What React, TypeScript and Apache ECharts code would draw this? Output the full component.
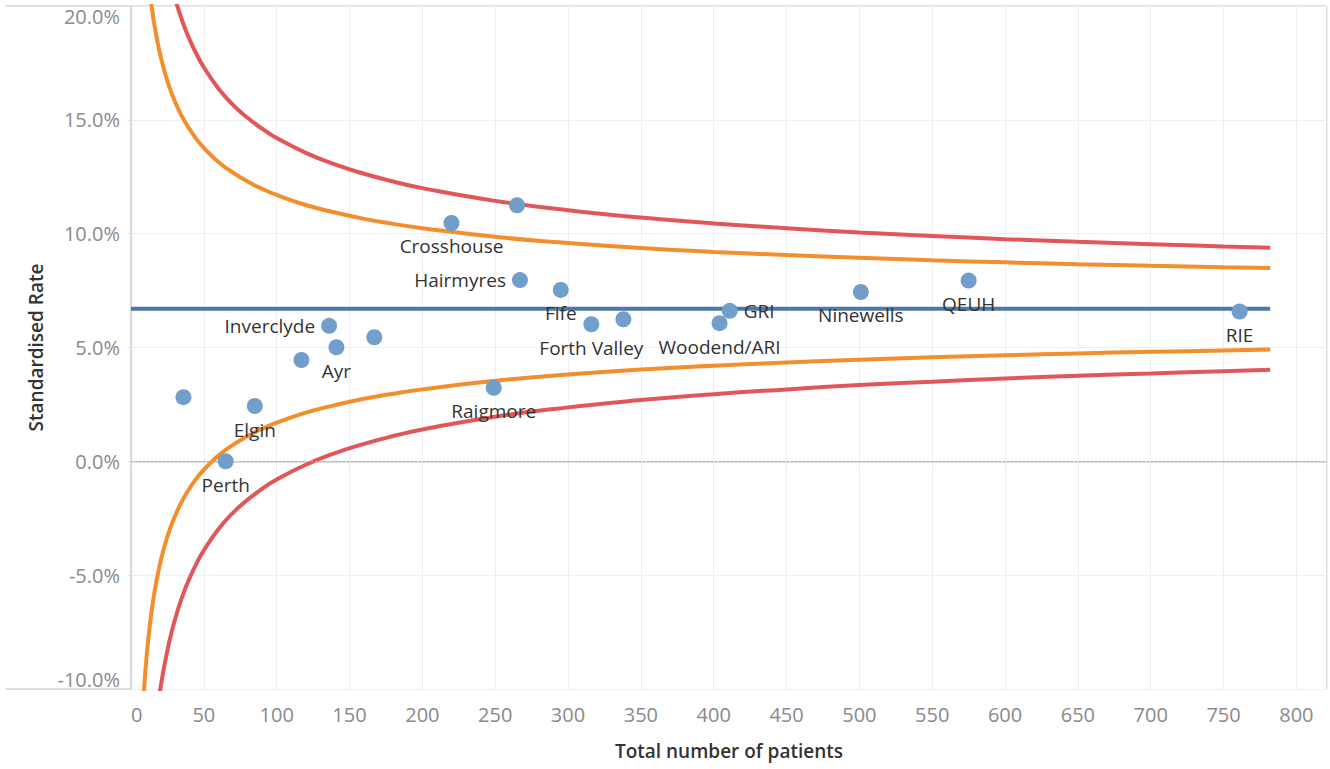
import React, { useEffect, useRef } from "react";
import * as echarts from "echarts";

// Hospitals: name, total number of patients, standardised rate (%)
const hospitals = ["", "Perth", "Elgin", "", "Inverclyde", "Ayr", "", "Crosshouse", "", "Hairmyres", "Fife", "Forth Valley", "", "Woodend/ARI", "GRI", "Raigmore", "Ninewells", "QEUH", "RIE"];
const patients = [36, 65, 85, 117, 136, 141, 167, 220, 265, 267, 295, 316, 338, 404, 411, 249, 501, 575, 761];
const rates = [2.82, 0.0, 2.43, 4.45, 5.95, 5.01, 5.45, 10.47, 11.25, 7.96, 7.53, 6.02, 6.24, 6.07, 6.61, 3.23, 7.44, 7.94, 6.58];
const labelPos = ["none", "bottom", "bottom", "none", "left", "bottom", "none", "bottom", "none", "left", "bottom", "bottom", "none", "bottom", "right", "bottom", "bottom", "bottom", "bottom"];

// Overall mean rate (%)
const meanRate = 6.7;
const meanRange = [0, 782];

// Control limits read along the funnel
const limitN = [8, 10, 12, 14, 16, 18, 20, 22, 25, 28, 32, 36, 40, 45, 50, 60, 70, 80, 90, 100, 120, 140, 160, 180, 200, 250, 300, 350, 400, 450, 500, 550, 600, 650, 700, 750, 782];
const upper95 = [24.38, 22.51, 21.13, 20.06, 19.2, 18.49, 17.88, 17.36, 16.7, 16.15, 15.54, 15.03, 14.61, 14.15, 13.77, 13.15, 12.68, 12.29, 11.97, 11.7, 11.26, 10.93, 10.65, 10.43, 10.24, 9.86, 9.59, 9.37, 9.2, 9.06, 8.94, 8.83, 8.74, 8.66, 8.59, 8.53, 8.49];
const lower95 = [-10.98, -9.11, -7.73, -6.66, -5.8, -5.09, -4.48, -3.96, -3.3, -2.75, -2.14, -1.63, -1.21, -0.75, -0.37, 0.25, 0.72, 1.11, 1.43, 1.7, 2.14, 2.47, 2.75, 2.97, 3.16, 3.54, 3.81, 4.03, 4.2, 4.34, 4.46, 4.57, 4.66, 4.74, 4.81, 4.87, 4.91];
const upper998 = [33.22, 30.42, 28.35, 26.75, 25.45, 24.38, 23.47, 22.69, 21.7, 20.87, 19.96, 19.2, 18.56, 17.88, 17.31, 16.38, 15.66, 15.09, 14.61, 14.2, 13.55, 13.04, 12.63, 12.29, 12.0, 11.44, 11.03, 10.71, 10.45, 10.24, 10.05, 9.9, 9.76, 9.64, 9.54, 9.44, 9.38];
const lower998 = [-19.82, -17.02, -14.95, -13.35, -12.05, -10.98, -10.07, -9.29, -8.3, -7.47, -6.56, -5.8, -5.16, -4.48, -3.91, -2.98, -2.26, -1.69, -1.21, -0.8, -0.15, 0.36, 0.77, 1.11, 1.4, 1.96, 2.37, 2.69, 2.95, 3.16, 3.35, 3.5, 3.64, 3.76, 3.86, 3.96, 4.02];

const xTitle = "Total number of patients";
const yTitle = "Standardised Rate";

const FONT = "'Open Sans', sans-serif";
const ORANGE = "#f28e2b";
const RED = "#e15759";
const BLUE = "#4e77a8";
const POINT = "#729ecb";

export default function App() {
  const ref = useRef<HTMLDivElement>(null);
  useEffect(() => {
    if (!ref.current) return;
    const chart = echarts.init(ref.current, undefined, { renderer: "svg" });
    const zip = (ys: number[]) => limitN.map((n, i) => [n, ys[i]]);
    const lineSeries = (name: string, ys: number[], color: string) => ({
      name,
      type: "line",
      data: zip(ys),
      smooth: true,
      showSymbol: false,
      symbol: "none",
      lineStyle: { color, width: 4 },
      silent: true,
      z: 2,
    });
    chart.setOption({
      animation: false,
      textStyle: { fontFamily: FONT },
      grid: { left: 131, top: 6, right: 3, bottom: 80, containLabel: false },
      xAxis: {
        type: "value",
        min: 0,
        max: 821,
        interval: 50,
        name: xTitle,
        nameLocation: "middle",
        nameGap: 52,
        nameTextStyle: { fontFamily: FONT, fontSize: 19, fontWeight: 600, color: "#333" },
        axisLine: { show: true, lineStyle: { color: "#cfcfcf", width: 1.5 } },
        axisTick: { show: true, length: 5, lineStyle: { color: "#e0e0e0" } },
        axisLabel: { fontFamily: FONT, fontSize: 20, color: "#8a8a8a", margin: 15, showMaxLabel: false, alignMinLabel: "left" },
        splitLine: { show: true, lineStyle: { color: "#efefef", width: 1 } },
      },
      yAxis: {
        type: "value",
        min: -10,
        max: 20,
        interval: 5,
        name: yTitle,
        nameLocation: "middle",
        nameGap: 86,
        nameTextStyle: { fontFamily: FONT, fontSize: 19, fontWeight: 600, color: "#333" },
        axisLine: { show: true, lineStyle: { color: "#cfcfcf", width: 1.5 } },
        axisTick: { show: true, length: 3, lineStyle: { color: "#e0e0e0" } },
        axisLabel: {
          fontFamily: FONT,
          fontSize: 20,
          color: "#8a8a8a",
          margin: 11,
          formatter: (v: number) => v.toFixed(1) + "%",
          verticalAlignMinLabel: "bottom",
          verticalAlignMaxLabel: "top",
        },
        splitLine: { show: true, lineStyle: { color: "#efefef", width: 1 } },
      },
      graphic: [
        { type: "line", shape: { x1: 6, y1: 6, x2: 1327, y2: 6 }, style: { stroke: "#d4d4d4", lineWidth: 1.5 }, silent: true },
        { type: "line", shape: { x1: 6, y1: 689, x2: 131, y2: 689 }, style: { stroke: "#cfcfcf", lineWidth: 1.5 }, silent: true },
        { type: "line", shape: { x1: 1327, y1: 6, x2: 1327, y2: 689 }, style: { stroke: "#d4d4d4", lineWidth: 1.5 }, silent: true },
      ],
      series: [
        lineSeries("Lower 99.8%", lower998, RED),
        lineSeries("Upper 99.8%", upper998, RED),
        lineSeries("Lower 95%", lower95, ORANGE),
        lineSeries("Upper 95%", upper95, ORANGE),
        {
          name: "Mean",
          type: "line",
          data: meanRange.map((n) => [n, meanRate]),
          showSymbol: false,
          symbol: "none",
          lineStyle: { color: BLUE, width: 4 },
          silent: true,
          z: 3,
          markLine: {
            silent: true,
            symbol: "none",
            label: { show: false },
            lineStyle: { color: "#b5b5b5", type: [2, 2], width: 1 },
            data: [{ yAxis: 0 }],
          },
        },
        {
          name: "Hospitals",
          type: "scatter",
          symbolSize: 16,
          z: 5,
          itemStyle: { color: POINT, opacity: 1 },
          data: patients.map((n, i) => ({
            value: [n, rates[i]],
            name: hospitals[i],
            label: {
              show: labelPos[i] !== "none",
              position: labelPos[i] === "none" ? "bottom" : labelPos[i],
              distance: 6,
              formatter: hospitals[i],
              fontFamily: FONT,
              fontSize: 19,
              color: "#333",
            },
          })),
        },
      ],
    });
    return () => chart.dispose();
  }, []);
  return <div ref={ref} style={{ position: "absolute", left: 0, top: 0, width: 1330, height: 769 }} />;
}
